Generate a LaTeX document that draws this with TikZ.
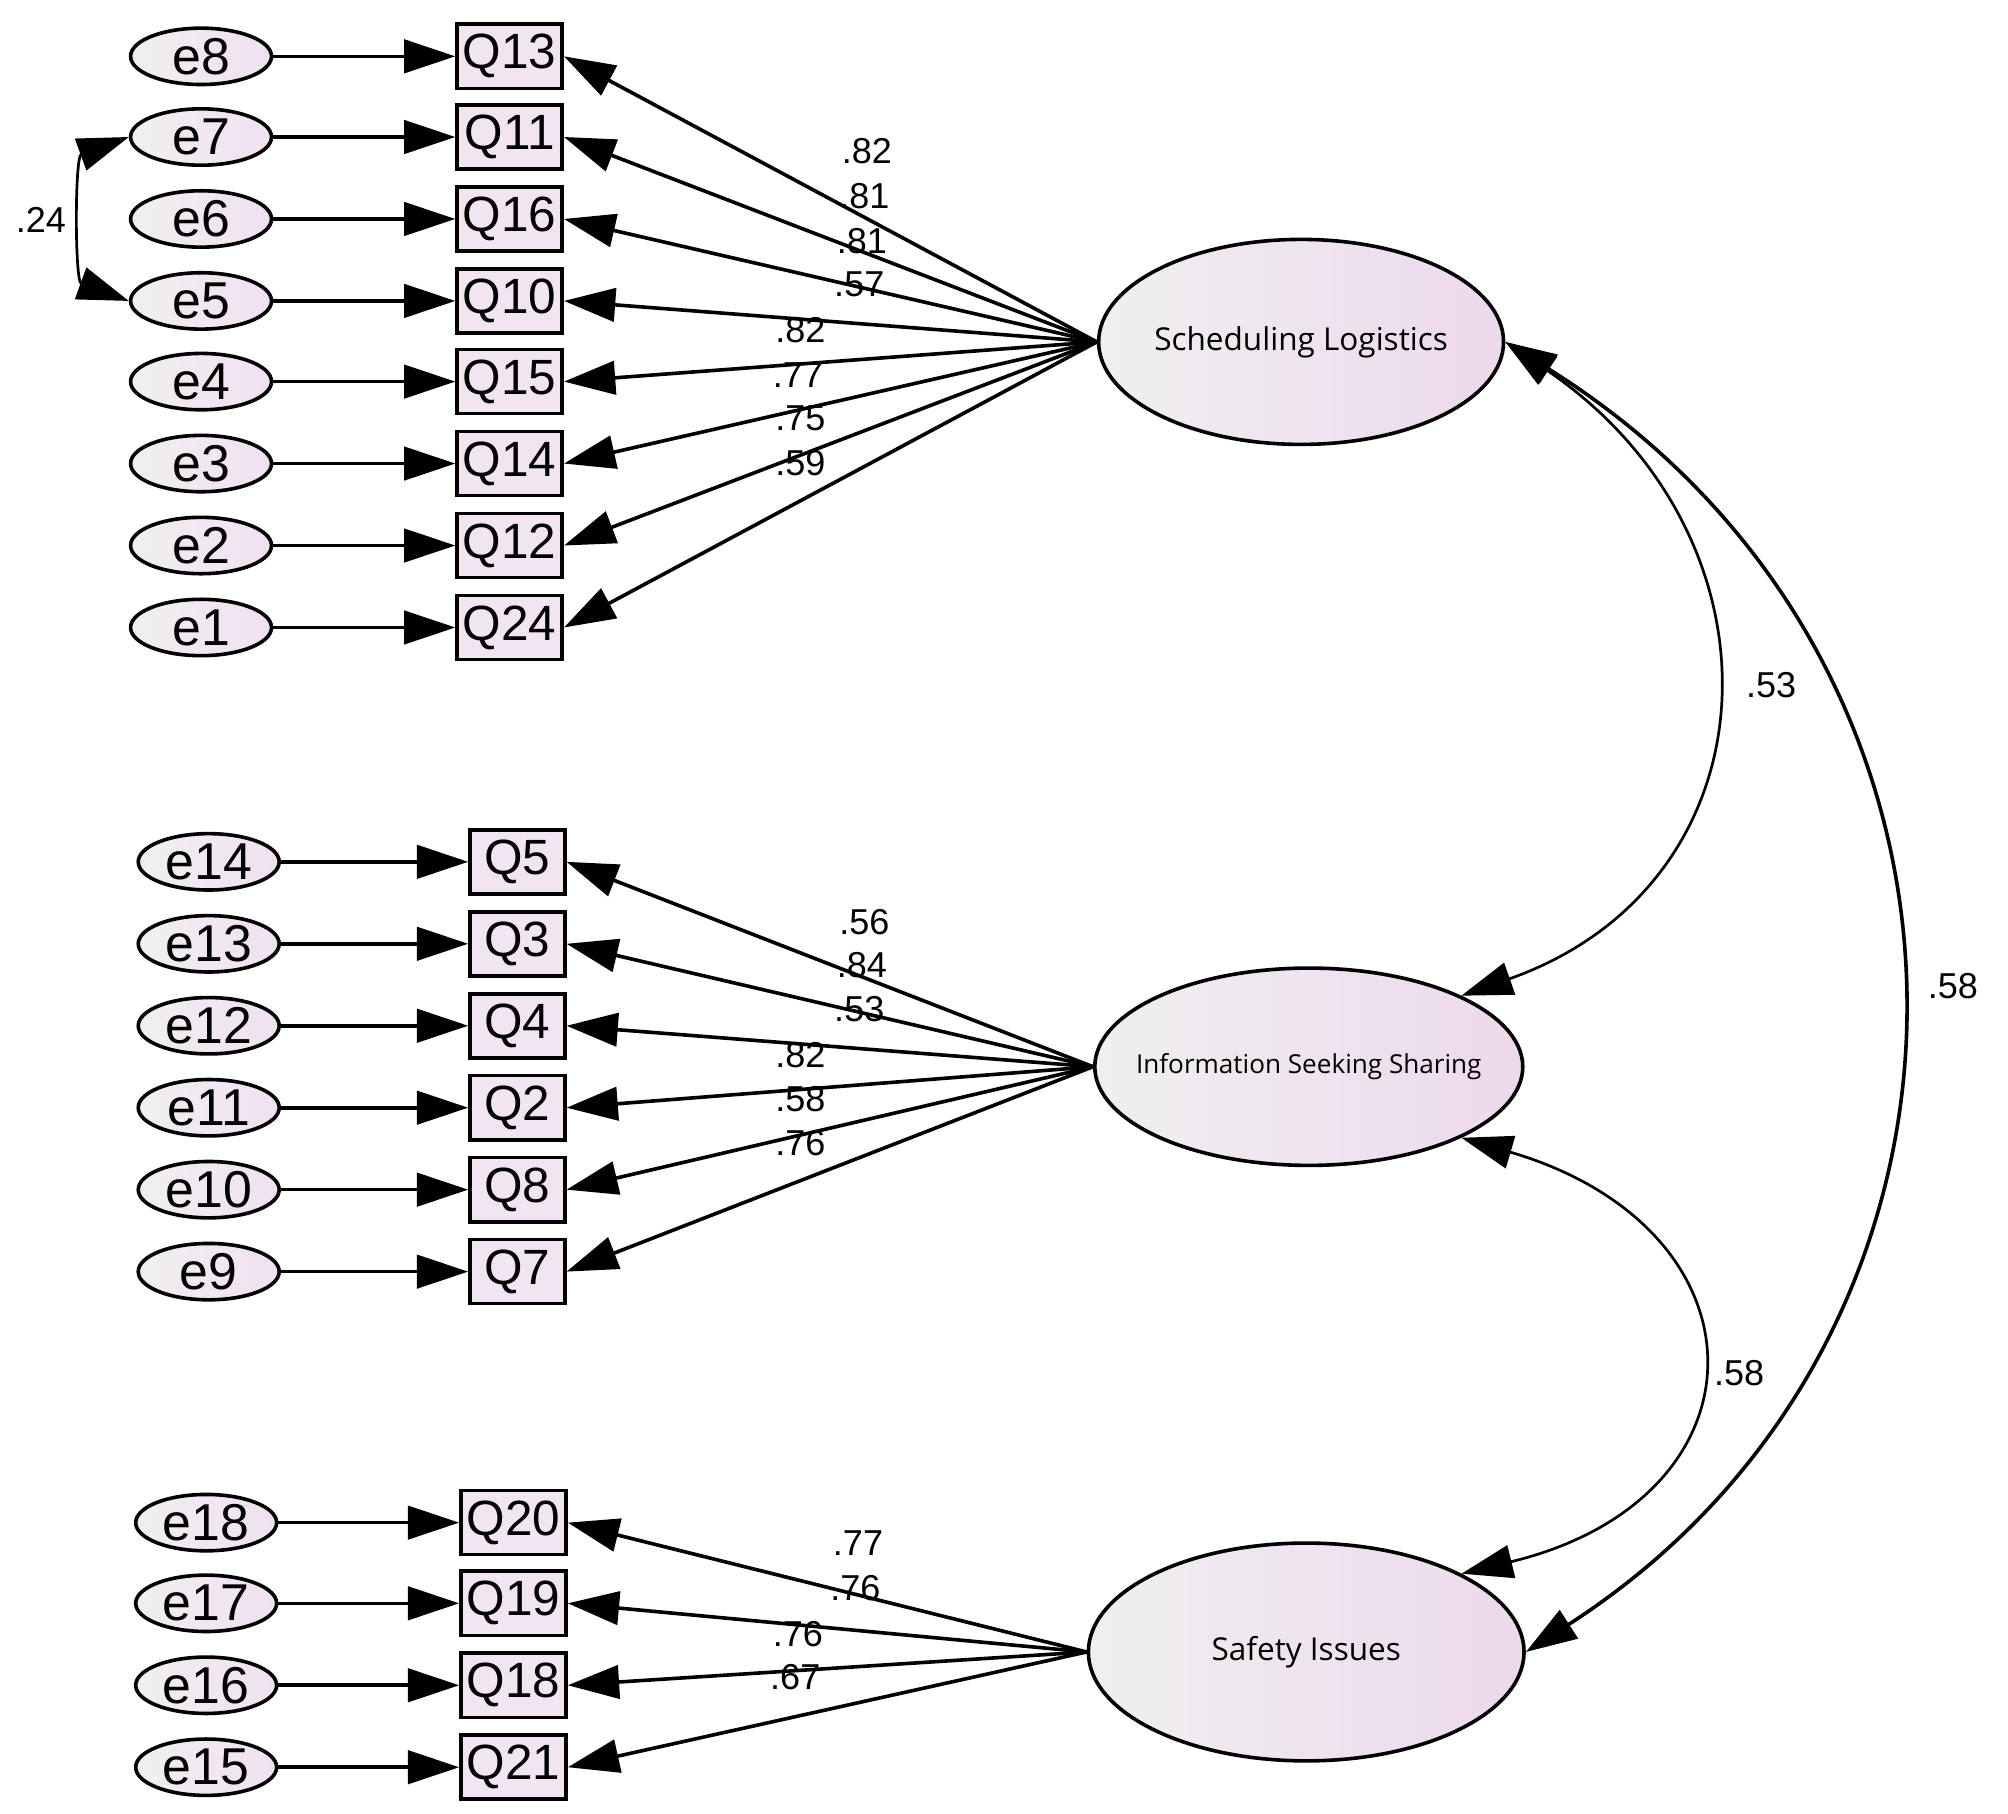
\documentclass[tikz,border=0pt]{standalone}
\usepackage{fontspec}
\setmainfont{Liberation Sans}
\newfontfamily\latfont{Open Sans}
\usetikzlibrary{arrows.meta}
\usetikzlibrary{shapes.geometric}

\tikzset{
	errnode/.style={ellipse,draw,thick,minimum width=1.1cm,minimum height=0.44cm,inner sep=0pt,
		left color=gray!12,right color=violet!12,font=\fontsize{11.5}{13}\selectfont},
	obsnode/.style={rectangle,draw,thick,minimum width=0.82cm,minimum height=0.5cm,inner sep=0pt,
		fill=violet!10,font=\fontsize{11}{13}\selectfont},
	latnode/.style={ellipse,draw,thick,inner sep=0pt,
		left color=gray!12,right color=violet!15,font=\latfont\fontsize{7}{9}\selectfont},
	load/.style={thick,-{Triangle[length=4mm,width=2.6mm]}},
	cov/.style={semithick,{Triangle[length=4mm,width=2.6mm]}-{Triangle[length=4mm,width=2.6mm]}},
	coef/.style={font=\fontsize{8}{10}\selectfont,inner sep=1pt}
}

\begin{document}
\begin{tikzpicture}[x=0.01cm,y=-0.01cm]
	\useasboundingbox (0,0) rectangle (1568,1416);
	%Latent factors
	\node [latnode,minimum width=3.16cm,minimum height=1.6cm] (sl) at (1016,267) {\makebox[0pt]{Scheduling Logistics}};
	\node [latnode,minimum width=3.34cm,minimum height=1.54cm,font=\latfont\fontsize{5.8}{7}\selectfont] (is) at (1022,833) {\makebox[0pt]{Information Seeking Sharing}};
	\node [latnode,minimum width=3.4cm,minimum height=1.7cm] (si) at (1020,1290) {\makebox[0pt]{Safety Issues}};

	%Scheduling Logistics items
	\foreach \e/\q/\y/\c/\cx/\cy in {8/13/44/82/677/118,7/11/107/81/675/153,6/16/171/81/673/188,5/10/235/57/671/222,
		4/15/298/82/625/258,3/14/362/77/623/293,2/12/426/75/625/327,1/24/490/59/625/362}{
		\node [errnode] (e\e) at (157,\y) {e\e};
		\node [obsnode] (q\q) at (398,\y) {Q\q};
		\draw [load] (e\e) -- (q\q);
		\draw [load] (sl.west) -- (q\q.east);
		\node [coef] at (\cx,\cy) {.\c};
	}
	%Information Seeking Sharing items
	\foreach \e/\q/\y/\c/\cx/\cy in {14/5/673/56/675/720,13/3/737/84/673/754,12/4/801/53/671/788,
		11/2/865/82/625/824,10/8/929/58/625/858,9/7/993/76/625/893}{
		\node [errnode] (e\e) at (163,\y) {e\e};
		\node [obsnode,minimum width=0.74cm] (q\q) at (404,\y) {Q\q};
		\draw [load] (e\e) -- (q\q);
		\draw [load] (is.west) -- (q\q.east);
		\node [coef] at (\cx,\cy) {.\c};
	}
	%Safety Issues items
	\foreach \e/\q/\y/\c/\cx/\cy in {18/20/1189/77/670/1205,17/19/1252/76/668/1240,16/18/1316/76/623/1276,15/21/1380/67/621/1310}{
		\node [errnode] (e\e) at (161,\y) {e\e};
		\node [obsnode] (q\q) at (401,\y) {Q\q};
		\draw [load] (e\e) -- (q\q);
		\draw [load] (si.west) -- (q\q.east);
		\node [coef] at (\cx,\cy) {.\c};
	}

	%Correlated errors
	\draw [cov] (e7.west) to [out=200,in=160,looseness=0.9] (e5.west);
	\node [coef] at (32,172) {.24};
	%Factor covariances
	\draw [cov] (sl.east) .. controls (1400,420) and (1390,690) .. (is.north east);
	\node [coef] at (1383,535) {.53};
	\draw [cov,thick] (sl.east) .. controls (1580,520) and (1580,1040) .. (si.east);
	\node [coef] at (1525,770) {.58};
	\draw [cov] (is.south east) .. controls (1385,960) and (1385,1170) .. (si.north east);
	\node [coef] at (1358,1072) {.58};
\end{tikzpicture}
\end{document}
